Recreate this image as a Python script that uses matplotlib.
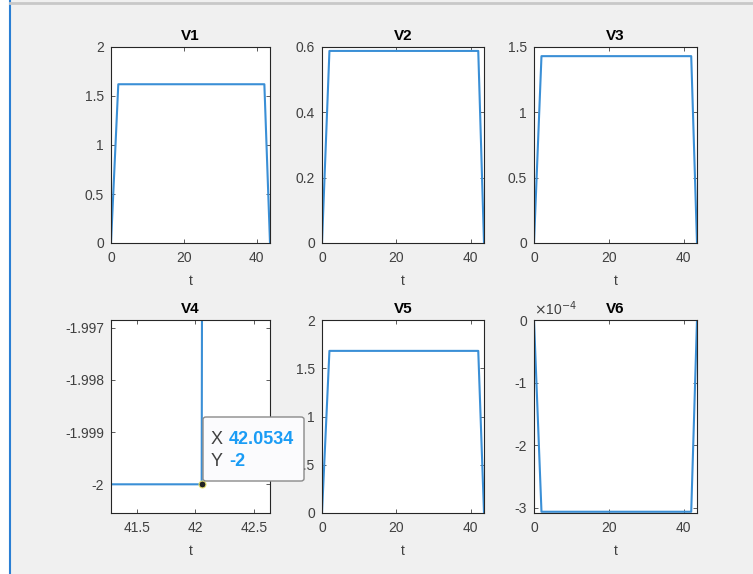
import numpy as np
import matplotlib.pyplot as plt
from matplotlib.patches import FancyBboxPatch, Rectangle
from matplotlib.lines import Line2D

# punkty czasowe (trapez) i wartosci sygnalow
t = [0.0, 2.0, 42.0534, 43.6]
v1 = [0.0, 1.62, 1.62, 0.0]
v2 = [0.0, 0.588, 0.588, 0.0]
v3 = [0.0, 1.43, 1.43, 0.0]
v4 = [0.0, -2.0, -2.0, 0.0]
v5 = [0.0, 1.68, 1.68, 0.0]
v6 = [0.0, -3.06e-4, -3.06e-4, 0.0]

titles = ["V1", "V2", "V3", "V4", "V5", "V6"]
ylims = [(0, 2), (0, 0.6), (0, 1.5), (-2.00055, -1.99685), (0, 2), (-3.08e-4, 0)]
yticks = [[0, 0.5, 1, 1.5, 2], [0, 0.2, 0.4, 0.6], [0, 0.5, 1, 1.5],
          [-2.0, -1.999, -1.998, -1.997], [0, 0.5, 1, 1.5, 2], [-3e-4, -2e-4, -1e-4, 0]]
ytick_labels = [["0", "0.5", "1", "1.5", "2"], ["0", "0.2", "0.4", "0.6"],
                ["0", "0.5", "1", "1.5"], ["-2", "-1.999", "-1.998", "-1.997"],
                ["0", "0.5", "1", "1.5", "2"], ["-3", "-2", "-1", "0"]]

plt.rcParams['font.family'] = ['Liberation Sans', 'DejaVu Sans']
line_color = '#3a8fd6'
text_color = '#404040'

fig = plt.figure(figsize=(7.53, 5.74), dpi=100)
fig.patch.set_facecolor('#f0f0f0')

W, H = 753.0, 574.0
cols = [(111, 270), (322, 484), (534, 697)]
rows = [(47, 243), (320, 513)]

# ramka okna (lewa niebieska linia, gorna szara)
fig.patches.append(Rectangle((0, 0), 9 / W, 1, transform=fig.transFigure,
                             facecolor='white', edgecolor='none', zorder=-1))
fig.lines.append(Line2D([9.5 / W, 9.5 / W], [0, 1], transform=fig.transFigure,
                        color='#2a7fd4', lw=1.5))
fig.lines.append(Line2D([9.5 / W, 1], [1 - 3 / H, 1 - 3 / H], transform=fig.transFigure,
                        color='#c8c8c8', lw=2))

data = [v1, v2, v3, v4, v5, v6]
axes = []
for i, vals in enumerate(data):
    r, c = divmod(i, 3)
    x0, x1 = cols[c]
    y0, y1 = rows[r]
    ax = fig.add_axes([x0 / W, 1 - y1 / H, (x1 - x0) / W, (y1 - y0) / H])
    ax.plot(t, vals, color=line_color, lw=1.5)
    if i == 3:
        ax.set_xlim(41.28, 42.636)
        ax.set_xticks([41.5, 42, 42.5])
        ax.set_xticklabels(["41.5", "42", "42.5"])
    else:
        ax.set_xlim(0, t[-1])
        ax.set_xticks([0, 20, 40])
        ax.set_xticklabels(["0", "20", "40"])
    ax.set_ylim(*ylims[i])
    ax.set_yticks(yticks[i])
    ax.set_yticklabels(ytick_labels[i])
    ax.set_title(titles[i], fontsize=11, fontweight='bold', color='black', pad=5)
    ax.set_xlabel("t", fontsize=10, color=text_color, labelpad=6)
    ax.tick_params(direction='in', top=True, right=True, length=3, width=0.6,
                   labelsize=10, colors=text_color)
    ax.tick_params(axis='x', pad=6)
    ax.tick_params(axis='y', pad=5)
    for s in ax.spines.values():
        s.set_color('#262626')
        s.set_linewidth(0.8)
    axes.append(ax)

# mnoznik osi V6
axes[5].text(0.0, 1.01, r"$\times$10$^{-4}$", transform=axes[5].transAxes,
             fontsize=10, color=text_color, ha='left', va='bottom')

# punkt danych z etykieta (datatip)
ax4 = axes[3]
ax4.plot([t[2]], [v4[2]], 'o', ms=5, mfc='#222222', mec='#e8e070', mew=0.8,
         clip_on=False, zorder=5)

bx0, bx1, by0, by1 = 203, 304, 417, 481
fig.patches.append(FancyBboxPatch((bx0 / W, 1 - by1 / H), (bx1 - bx0) / W, (by1 - by0) / H,
                                  boxstyle="round,pad=0,rounding_size=0.004",
                                  transform=fig.transFigure, facecolor='#fbfbfd',
                                  edgecolor='#8a8a8a', lw=1, zorder=10))
tip_blue = '#1a9cf5'
fig.text(211 / W, 1 - 440 / H, "X", fontsize=13, color='#404040', va='center', zorder=11)
fig.text(229 / W, 1 - 440 / H, "42.0534", fontsize=13, color=tip_blue,
         fontweight='bold', va='center', zorder=11)
fig.text(211 / W, 1 - 462 / H, "Y", fontsize=13, color='#404040', va='center', zorder=11)
fig.text(229 / W, 1 - 462 / H, "-2", fontsize=13, color=tip_blue,
         fontweight='bold', va='center', zorder=11)

plt.savefig("out.png", dpi=100, facecolor=fig.get_facecolor())
plt.close()
